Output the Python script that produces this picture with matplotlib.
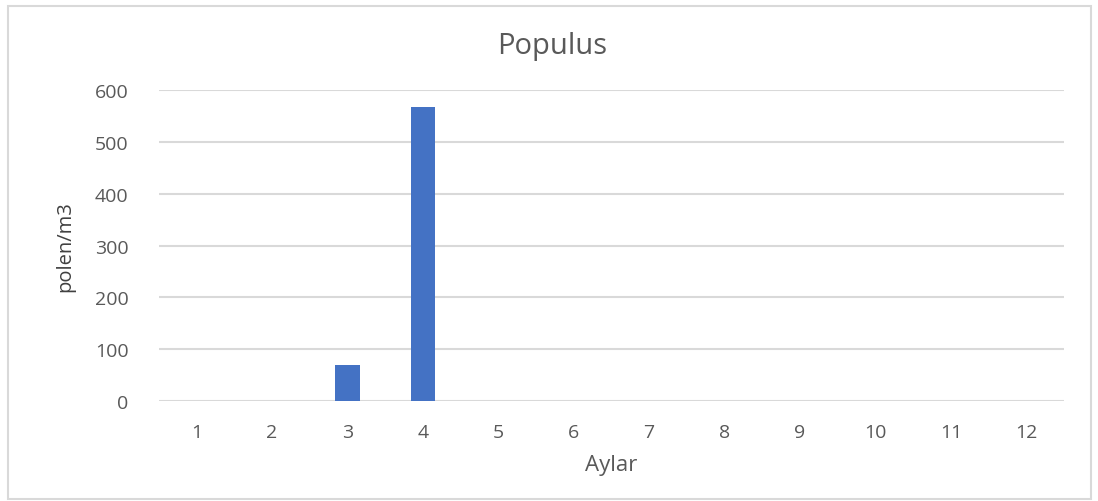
import matplotlib
matplotlib.use('Agg')
import matplotlib.pyplot as plt
from matplotlib.patches import Rectangle

# Aylık polen değerleri (Populus)
months = list(range(1, 13))
pollen = [0, 0, 70, 568, 0, 0, 0, 0, 0, 0, 0, 0]
y_ticks = [0, 100, 200, 300, 400, 500, 600]

plt.rcParams['font.family'] = ['Open Sans', 'DejaVu Sans']

fig = plt.figure(figsize=(10.98, 5.02), dpi=100)
ax = fig.add_axes([0.1448, 0.1992, 0.8242, 0.6195])

# Excel tarzı çerçeve
fig.patches.append(Rectangle((0.007, 0.004), 0.987, 0.982, transform=fig.transFigure,
                             fill=False, edgecolor='#d9d9d9', linewidth=1.5))

ax.bar(months, pollen, width=0.32, color='#4472c4', zorder=3)

ax.set_xlim(0.5, 12.5)
ax.set_ylim(0, 600)
ax.set_yticks(y_ticks)
ax.set_xticks(months)
ax.yaxis.grid(True, color='#d9d9d9', linewidth=1.5, zorder=0)
for s in ax.spines.values():
    s.set_visible(False)
ax.tick_params(length=0, labelsize=14, labelcolor='#595959')
ax.tick_params(axis='y', pad=22)
ax.tick_params(axis='x', pad=16)

# başlık grafiğin ortasında (eksen değil)
fig.text(0.503, 0.908, 'Populus', fontsize=21, color='#595959', ha='center', va='center')
ax.set_xlabel('Aylar', fontsize=16, color='#595959', labelpad=9)
ax.set_ylabel('polen/m3', fontsize=14.5, color='#404040', labelpad=14)

fig.savefig('out.png', dpi=100)
